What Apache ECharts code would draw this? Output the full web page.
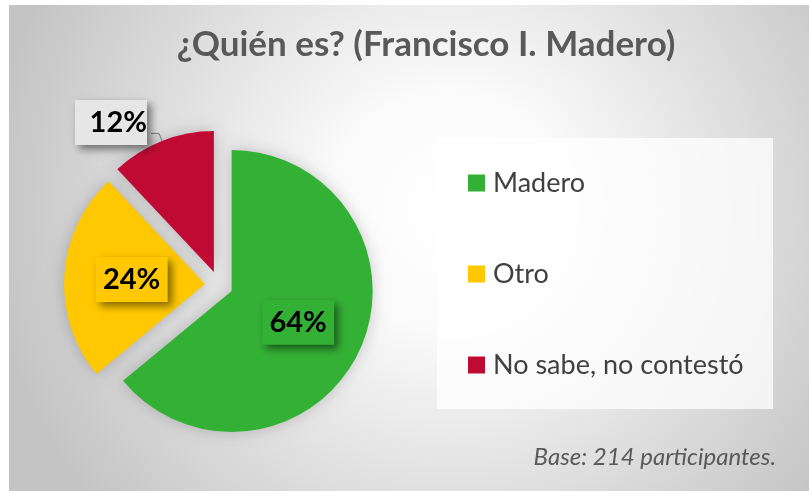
<!DOCTYPE html>
<html>
<head>
<meta charset="utf-8">
<script src="https://cdn.jsdelivr.net/npm/echarts@6/dist/echarts.min.js"></script>
<style>
  html, body { margin: 0; padding: 0; background: #fff; }
  #chart { width: 809px; height: 491px; }
</style>
</head>
<body>
<div id="chart"></div>
<script>
var categories = ['Madero', 'Otro', 'No sabe, no contestó'];
var values = [64, 24, 12];
var colors = ['#33b135', '#ffc800', '#c00a34'];
var labelBg = ['#33b135', '#ffc800', '#e6e6e6'];

var chart = echarts.init(document.getElementById('chart'));

var pieData = categories.map(function (name, i) {
    var item = {
        name: name,
        value: values[i],
        selected: true,
        itemStyle: { color: colors[i] },
        label: { backgroundColor: labelBg[i] }
    };
    if (i === 2) {
        item.label.position = 'outside';
        item.labelLine = { show: true, length: 8, length2: 8 };
    }
    return item;
});

var options = {
    animation: false,
    graphic: [
        {
            type: 'rect',
            z: -10,
            shape: { x: 9, y: 5, width: 800, height: 486 },
            style: {
                fill: new echarts.graphic.RadialGradient(0.55, 0.42, 0.95, [
                    { offset: 0, color: '#ffffff' },
                    { offset: 0.25, color: '#fbfbfb' },
                    { offset: 1, color: '#c4c4c4' }
                ])
            }
        },
        {
            type: 'rect',
            z: -5,
            shape: { x: 437, y: 138, width: 336, height: 271 },
            style: { fill: 'rgba(255,255,255,0.75)' }
        }
    ],
    title: [
        {
            text: '¿Quién es? (Francisco I. Madero)',
            left: 421,
            top: 22,
            textAlign: 'center',
            textStyle: {
                fontFamily: 'Lato',
                fontWeight: 'bold',
                fontSize: 35,
                color: '#595959'
            }
        },
        {
            text: 'Base: 214 participantes.',
            right: 28,
            top: 440,
            textStyle: {
                fontFamily: 'Lato',
                fontStyle: 'italic',
                fontWeight: 'normal',
                fontSize: 24,
                color: '#595959'
            }
        }
    ],
    legend: {
        orient: 'vertical',
        left: 468,
        top: 168,
        padding: 0,
        itemWidth: 17,
        itemHeight: 17,
        itemGap: 61,
        icon: 'rect',
        selectedMode: false,
        data: categories,
        textStyle: {
            fontFamily: 'Lato',
            fontSize: 27,
            lineHeight: 30,
            color: '#404040',
            padding: [0, 0, 0, 3]
        }
    },
    series: [
        {
            type: 'pie',
            center: [219, 285],
            radius: 141,
            startAngle: 90,
            selectedMode: 'multiple',
            selectedOffset: 14,
            avoidLabelOverlap: false,
            itemStyle: {
                shadowBlur: 16,
                shadowColor: 'rgba(0,0,0,0.2)'
            },
            emphasis: { disabled: true },
            label: {
                show: true,
                position: 'inside',
                formatter: '{c}%',
                fontFamily: 'Lato',
                fontWeight: 'bold',
                fontSize: 29,
                color: '#000',
                width: 72,
                height: 45,
                lineHeight: 45,
                align: 'center',
                shadowBlur: 8,
                shadowOffsetX: 4,
                shadowOffsetY: 4,
                shadowColor: 'rgba(0,0,0,0.5)'
            },
            labelLine: {
                lineStyle: { color: '#7f7f7f', width: 1 }
            },
            labelLayout: function (params) {
                if (params.dataIndex === 2) {
                    return { dx: 1, dy: -11 };
                }
                return {};
            },
            data: pieData
        }
    ]
};

chart.setOption(options);
</script>
</body>
</html>
